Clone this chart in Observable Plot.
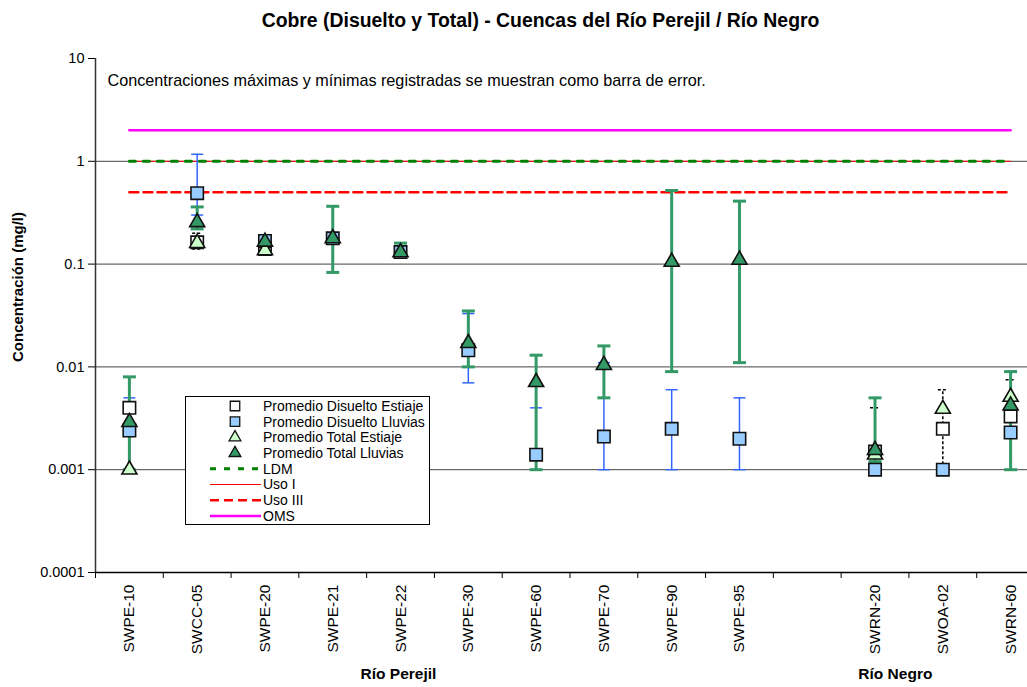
<!DOCTYPE html>
<html>
<head>
<meta charset="utf-8">
<script src="https://cdn.jsdelivr.net/npm/d3@7"></script>
<script src="https://cdn.jsdelivr.net/npm/@observablehq/plot@0.6"></script>
<style>
  body { margin: 0; overflow: hidden; background: #fff; font-family: "Liberation Sans", Arial, sans-serif; }
  #wrap { position: relative; width: 1027px; height: 687px; overflow: hidden; }
  #title { position: absolute; left: 0; width: 1081px; top: 9px; text-align: center; font-weight: bold; font-size: 19.4px; color: #000; }
  #ylabel { position: absolute; left: 17px; top: 287px; transform: translate(-50%, -50%) rotate(-90deg); font-weight: bold; font-size: 15px; white-space: nowrap; }
  #chart { position: absolute; left: 0; top: 0; }
  #legend { position: absolute; left: 185px; top: 396px; width: 245px; height: 129px; border: 1px solid #000; background: #fff; box-sizing: border-box; }
</style>
</head>
<body>
<div id="wrap">
  <div id="chart"></div>
  <div id="title">Cobre (Disuelto y Total) - Cuencas del Río Perejil / Río Negro</div>
  <div id="ylabel">Concentración (mg/l)</div>
  <div id="legend"></div>
</div>
<script>
// ---- data (mg/l) ----
const stations = ["SWPE-10","SWCC-05","SWPE-20","SWPE-21","SWPE-22","SWPE-30","SWPE-60","SWPE-70","SWPE-90","SWPE-95","","SWRN-20","SWOA-02","SWRN-60"];
const basinNames = ["Río Perejil", "Río Negro"];
const basinLabelAt = [3.97, 11.3];   // category position under which each basin name sits

const disEstiaje     = [0.004, 0.163, 0.14, null, null, null, null, null, null, null, null, 0.0015, 0.0025, 0.0033];
const disEstiajeMin  = [null, 0.14, 0.13, null, null, null, null, null, null, null, null, 0.001, 0.001, 0.001];
const disEstiajeMax  = [null, 0.2, 0.19, null, null, null, null, null, null, null, null, 0.004, 0.006, 0.0075];

const disLluvias     = [0.0024, 0.49, 0.168, 0.178, 0.131, 0.0145, 0.0014, 0.0021, 0.0025, 0.002, null, 0.001, 0.001, 0.0023];
const disLluviasMin  = [0.001, 0.3, null, null, null, 0.007, 0.001, 0.001, 0.001, 0.001, null, null, null, 0.001];
const disLluviasMax  = [0.005, 1.17, null, null, null, 0.033, 0.004, 0.011, 0.006, 0.005, null, null, null, 0.009];

const totEstiaje     = [0.001, 0.16, 0.136, null, null, null, null, null, null, null, null, 0.0014, 0.0039, 0.0051];

const totLluvias     = [0.0029, 0.255, 0.165, 0.178, 0.13, 0.017, 0.0071, 0.0104, 0.105, 0.11, null, 0.00155, null, 0.0042];
const totLluviasMin  = [0.001, 0.22, null, 0.083, 0.125, 0.01, 0.001, 0.005, 0.009, 0.011, null, 0.0012, null, 0.001];
const totLluviasMax  = [0.008, 0.36, null, 0.365, 0.16, 0.035, 0.013, 0.016, 0.52, 0.41, null, 0.005, null, 0.009];

const limitNames  = ["LDM", "Uso I", "Uso III", "OMS"];
const limitValues = [1, 1, 0.5, 2];

const yTicks = [10, 1, 0.1, 0.01, 0.001, 0.0001];
const gridValues = [1, 0.1, 0.01, 0.001];
const note = "Concentraciones máximas y mínimas registradas se muestran como barra de error.";

// ---- tables ----
const rows = stations.map((s, i) => ({
  i, s,
  de: disEstiaje[i], deMin: disEstiajeMin[i], deMax: disEstiajeMax[i],
  dl: disLluvias[i], dlMin: disLluviasMin[i], dlMax: disLluviasMax[i],
  te: totEstiaje[i],
  tl: totLluvias[i], tlMin: totLluviasMin[i], tlMax: totLluviasMax[i]
}));
const has = k => rows.filter(d => d[k] != null);

const limitRows = [];
limitNames.forEach((name, k) => stations.forEach((s, i) => limitRows.push({name, i, v: limitValues[k]})));

const groups = basinNames.map((name, k) => ({name, i: basinLabelAt[k]}));

const cap = { draw(ctx, size) { const w = Math.sqrt(size / Math.PI); ctx.moveTo(-w, 0); ctx.lineTo(w, 0); } };

const C = {
  de: "#ffffff", dl: "#99ccff", te: "#ccffcc", tl: "#339966",
  dlBar: "#3366ff", tlBar: "#339966",
  ldm: "#008000", uso1: "#ff0000", uso3: "#ff0000", oms: "#ff00ff"
};
const limitStyle = {
  "LDM":    {stroke: C.ldm,  strokeWidth: 3,   strokeDasharray: "6,8"},
  "Uso I":  {stroke: C.uso1, strokeWidth: 1,   strokeDasharray: null},
  "Uso III":{stroke: C.uso3, strokeWidth: 2.5, strokeDasharray: "9,5"},
  "OMS":    {stroke: C.oms,  strokeWidth: 2.5, strokeDasharray: null}
};
const limitOrder = ["Uso I", "LDM", "Uso III", "OMS"];

const errBar = (kMin, kMax, style) => [
  Plot.ruleX(has(kMax), {x: "i", y1: kMin, y2: kMax, stroke: style.stroke, strokeWidth: style.strokeWidth, strokeDasharray: style.strokeDasharray}),
  Plot.dot(has(kMax), {x: "i", y: kMax, symbol: cap, r: style.capR, fill: "none", stroke: style.stroke, strokeWidth: style.strokeWidth, strokeDasharray: style.strokeDasharray}),
  Plot.dot(has(kMin), {x: "i", y: kMin, symbol: cap, r: style.capR, fill: "none", stroke: style.stroke, strokeWidth: style.strokeWidth, strokeDasharray: style.strokeDasharray})
];

const chart = Plot.plot({
  width: 1027, height: 687,
  marginTop: 58, marginBottom: 115, marginLeft: 95, marginRight: 0,
  x: {type: "linear", domain: [-0.5, 13.5], range: [95, 1044]},
  y: {type: "log", domain: [0.0001, 10]},
  style: {fontFamily: "Liberation Sans, Arial, sans-serif", fontSize: "14px", background: "transparent", color: "#000", overflow: "visible"},
  marks: [
    Plot.ruleY(gridValues, {stroke: "#444", strokeWidth: 1}),
    ...limitOrder.map(n => Plot.line(limitRows.filter(d => d.name === n), {x: "i", y: "v", ...limitStyle[n]})),
    ...errBar("deMin", "deMax", {stroke: "#000", strokeWidth: 1.5, strokeDasharray: "3,2", capR: 5}),
    ...errBar("dlMin", "dlMax", {stroke: C.dlBar, strokeWidth: 1.5, capR: 6}),
    ...errBar("tlMin", "tlMax", {stroke: C.tlBar, strokeWidth: 3, capR: 6.5}),
    Plot.dot(has("de"), {x: "i", y: "de", symbol: "square", r: 7, fill: C.de, stroke: "#111", strokeWidth: 1.6}),
    Plot.dot(has("dl"), {x: "i", y: "dl", symbol: "square", r: 7, fill: C.dl, stroke: "#111", strokeWidth: 1.6}),
    Plot.dot(has("te"), {x: "i", y: "te", symbol: "triangle", r: 5.6, fill: C.te, stroke: "#111", strokeWidth: 1.6}),
    Plot.dot(has("tl"), {x: "i", y: "tl", symbol: "triangle", r: 5.6, fill: C.tl, stroke: "#111", strokeWidth: 1.6}),
    Plot.ruleX([-0.5], {stroke: "#333", strokeWidth: 1.5}),
    Plot.ruleY([0.0001], {stroke: "#000", strokeWidth: 1.5}),
    Plot.axisY({ticks: yTicks, tickFormat: d => String(d), tickSize: 7, tickPadding: 4, label: null, fontSize: 14.5}),
    Plot.axisX({ticks: d3.range(-0.5, 14, 1), tickFormat: () => "", tickSize: 6, label: null}),
    Plot.axisX({ticks: d3.range(0, 14), tickFormat: i => stations[i], tickSize: 0, tickPadding: 12, tickRotate: -90, label: null, fontSize: 15.5}),
    Plot.text([note], {text: d => d, frameAnchor: "top-left", textAnchor: "start", lineAnchor: "middle", dx: 12, dy: 22, fontSize: 16.2}),
    Plot.text(groups, {x: "i", text: "name", frameAnchor: "bottom", dy: 106, fontWeight: "bold", fontSize: 15.5})
  ]
});
document.getElementById("chart").appendChild(chart);

// ---- legend ----
const legendItems = [
  {label: "Promedio Disuelto Estiaje", kind: "square", fill: C.de},
  {label: "Promedio Disuelto Lluvias", kind: "square", fill: C.dl},
  {label: "Promedio Total Estiaje", kind: "triangle", fill: C.te},
  {label: "Promedio Total Lluvias", kind: "triangle", fill: C.tl},
  ...limitNames.map(n => ({label: n, kind: "line", ...limitStyle[n]}))
];
const lg = d3.select("#legend").append("svg").attr("width", 245).attr("height", 129)
  .style("font-family", "Liberation Sans, Arial, sans-serif").style("font-size", "14px");
legendItems.forEach((it, k) => {
  const y = 9 + k * 15.7;
  if (it.kind === "line") {
    lg.append("line").attr("x1", 24).attr("x2", 75).attr("y1", y).attr("y2", y)
      .attr("stroke", it.stroke).attr("stroke-width", it.strokeWidth)
      .attr("stroke-dasharray", it.strokeDasharray);
  } else {
    const sym = it.kind === "square" ? d3.symbolSquare : d3.symbolTriangle;
    const size = it.kind === "square" ? 90 : 60;
    lg.append("path").attr("d", d3.symbol(sym, size)()).attr("transform", `translate(49,${y})`)
      .attr("fill", it.fill).attr("stroke", "#111").attr("stroke-width", 1.3);
  }
  lg.append("text").attr("x", 77).attr("y", y).attr("dy", "0.35em").text(it.label);
});
</script>
</body>
</html>
